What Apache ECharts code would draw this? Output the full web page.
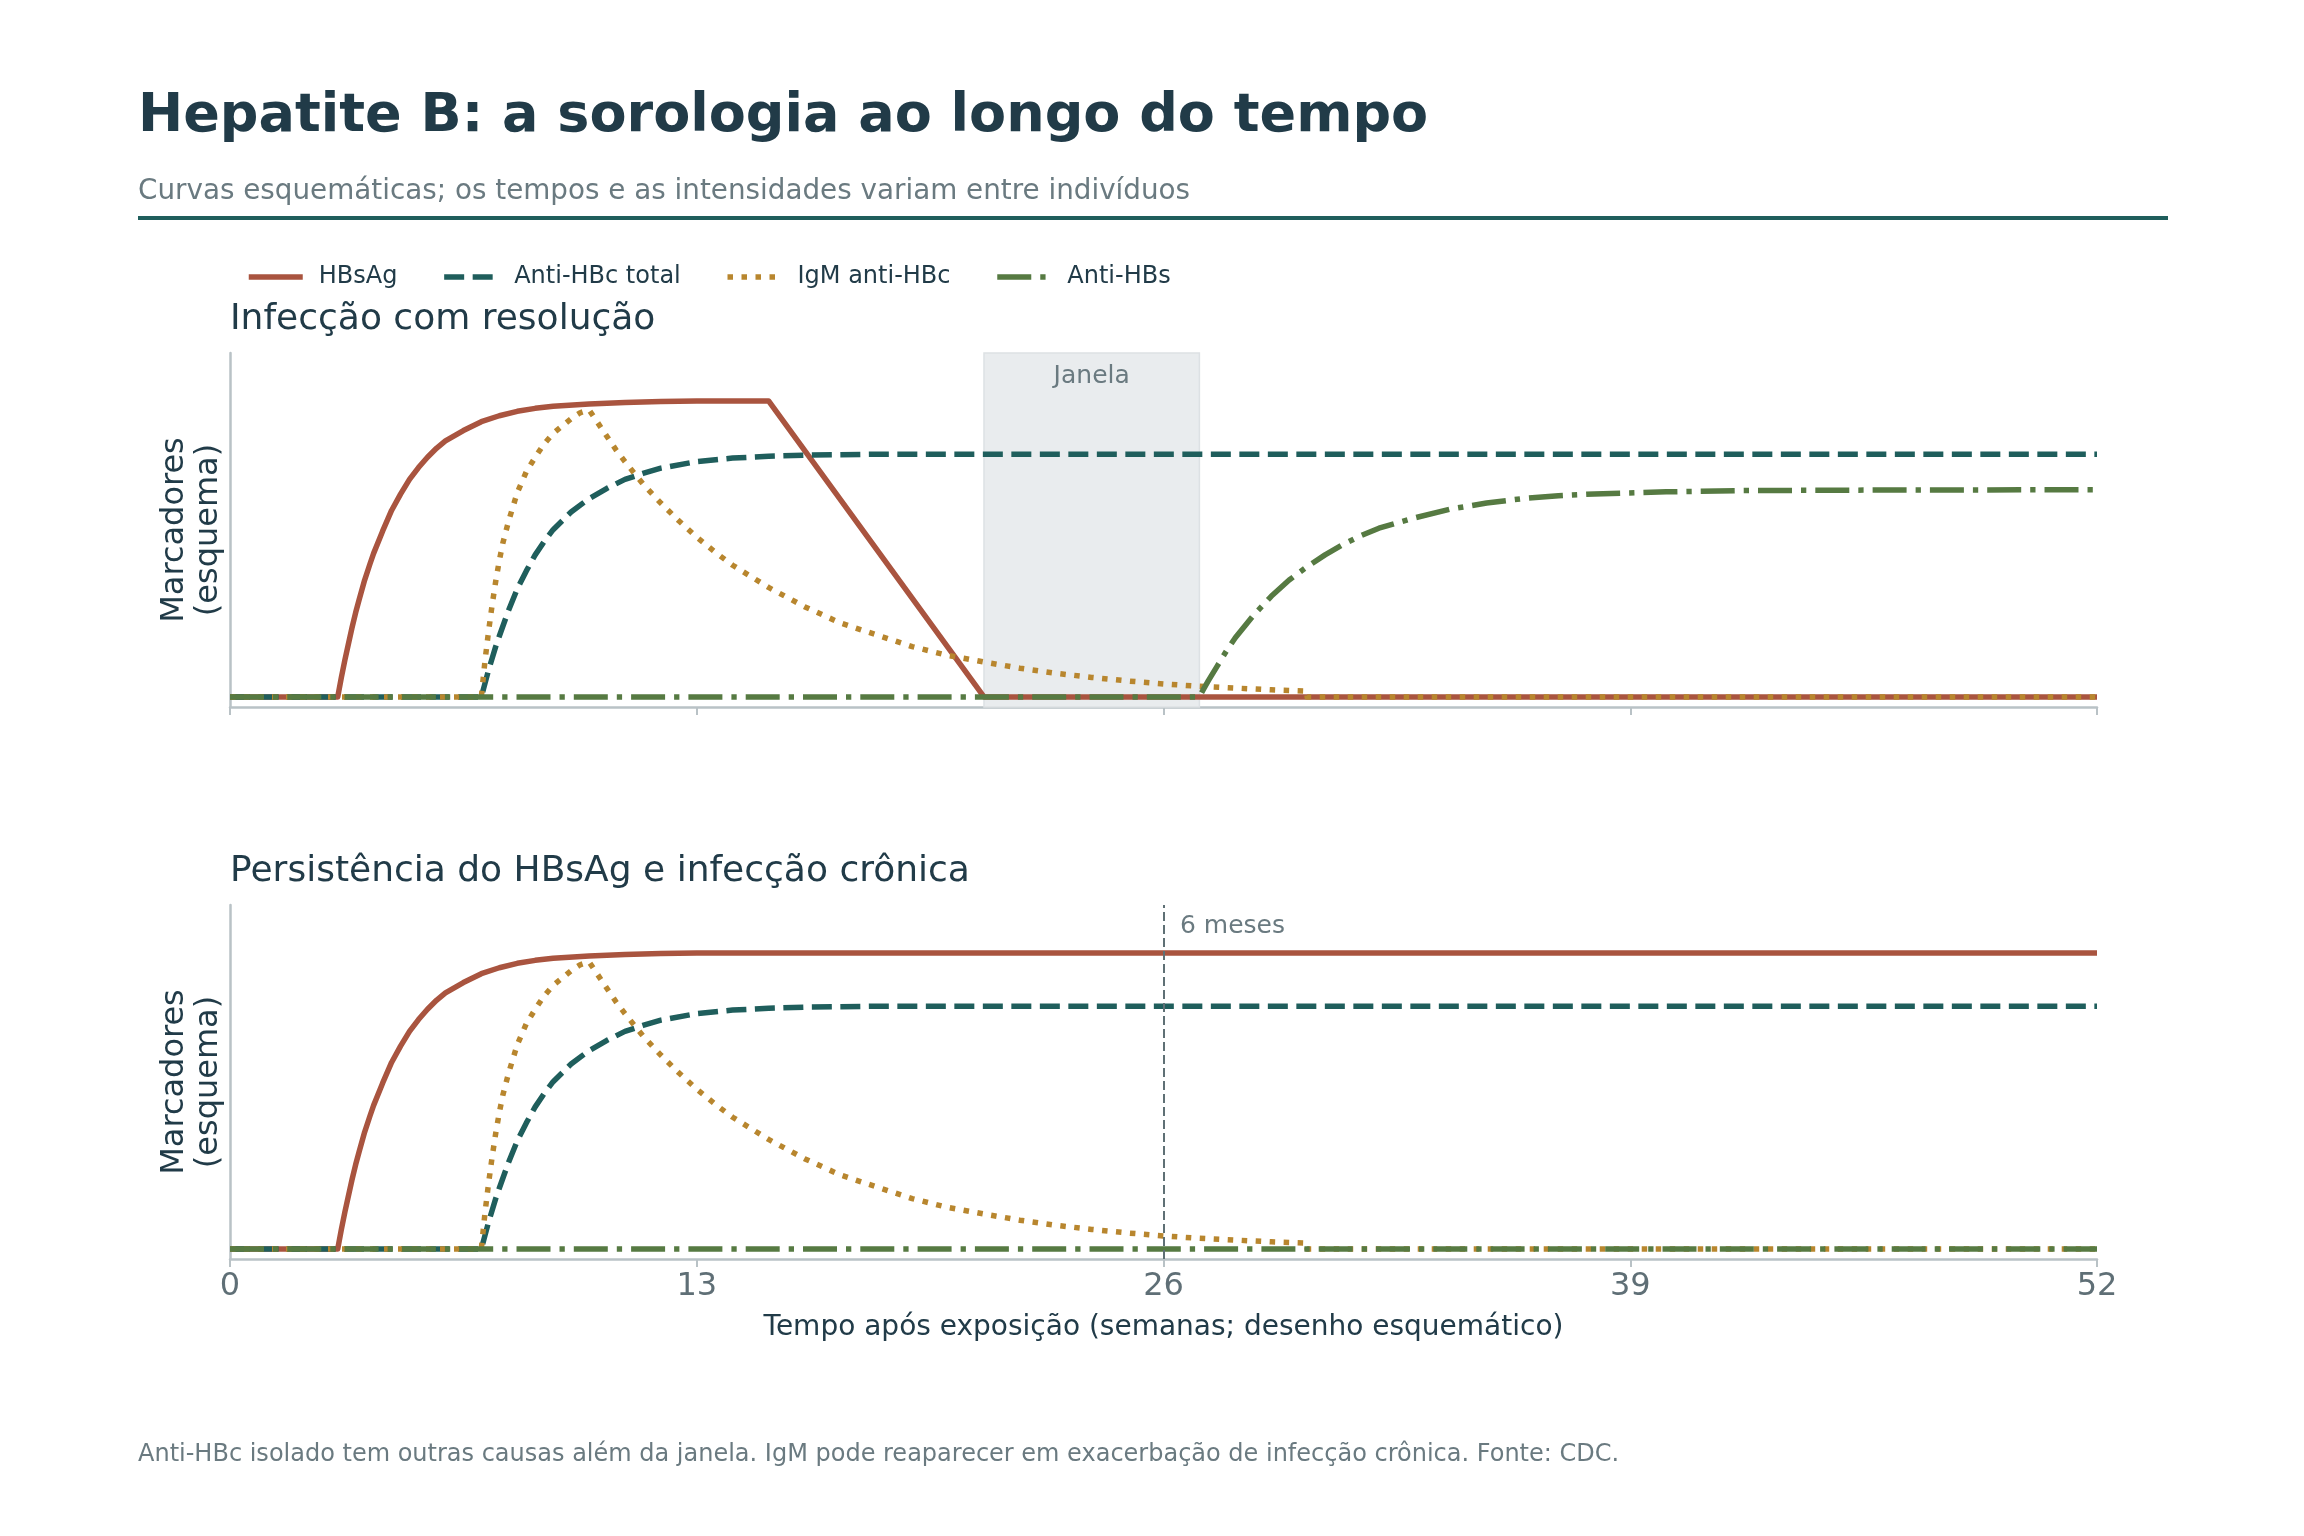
<!DOCTYPE html>
<html>
<head>
<meta charset="utf-8">
<title>Hepatite B: a sorologia ao longo do tempo</title>
<script src="https://cdn.jsdelivr.net/npm/echarts@6/dist/echarts.min.js"></script>
<style>
  html, body { margin: 0; padding: 0; background: #fff; }
  #chart { width: 2304px; height: 1536px; }
</style>
</head>
<body>
<div id="chart"></div>
<script>
// semanas após exposição -> intensidade esquemática
var hbsagRise = [[0, 0], [3, 0], [3.1, 0.065], [3.2, 0.125], [3.3, 0.18], [3.4, 0.235], [3.5, 0.285],
    [3.6, 0.33], [3.75, 0.395], [3.9, 0.45], [4, 0.485], [4.25, 0.56], [4.5, 0.63], [4.75, 0.685],
    [5, 0.735], [5.25, 0.775], [5.5, 0.81], [5.75, 0.84], [6, 0.865], [6.5, 0.9], [7, 0.93], [7.5, 0.95],
    [8, 0.965], [8.5, 0.975], [9, 0.982], [10, 0.99], [11, 0.995], [12, 0.998], [13, 1.0], [15, 1.0]];
var hbsagResolved = hbsagRise.concat([[21, 0], [52, 0]]);
var hbsagChronic = hbsagRise.concat([[52, 1.0]]);
var antiHbcTotal = [[0, 0], [7, 0], [7.1, 0.045], [7.2, 0.09], [7.3, 0.13], [7.4, 0.17], [7.5, 0.205],
    [7.75, 0.29], [8, 0.365], [8.25, 0.425], [8.5, 0.48], [8.75, 0.525], [9, 0.565], [9.5, 0.625],
    [10, 0.67], [10.5, 0.705], [11, 0.735], [11.5, 0.755], [12, 0.773], [13, 0.795], [14, 0.807],
    [15, 0.813], [16, 0.817], [18, 0.82], [52, 0.82]];
var igmAntiHbc = [[0, 0], [7, 0], [7.1, 0.12], [7.2, 0.22], [7.3, 0.31], [7.4, 0.39], [7.5, 0.46], [7.6, 0.52],
    [7.75, 0.59], [7.9, 0.65], [8, 0.69], [8.25, 0.76], [8.5, 0.81], [8.75, 0.855], [9, 0.89], [9.25, 0.915],
    [9.5, 0.94], [9.75, 0.96], [10, 0.97], [10.25, 0.925], [10.5, 0.88], [10.75, 0.835], [11, 0.795],
    [11.5, 0.72], [12, 0.655], [12.5, 0.595], [13, 0.54], [13.5, 0.49], [14, 0.445], [15, 0.37],
    [16, 0.305], [17, 0.25], [18, 0.21], [19, 0.17], [20, 0.14], [21, 0.118], [22, 0.097], [23, 0.08],
    [24, 0.066], [25, 0.054], [26, 0.044], [27, 0.036], [28, 0.03], [29, 0.024], [30, 0.02], [30, 0], [52, 0]];
var antiHbsResolved = [[0, 0], [27, 0], [27.1, 0.023], [27.25, 0.055], [27.5, 0.105], [27.75, 0.155],
    [28, 0.2], [28.5, 0.275], [29, 0.34], [29.5, 0.395], [30, 0.44], [30.5, 0.48], [31, 0.515],
    [31.5, 0.545], [32, 0.57], [33, 0.605], [34, 0.635], [35, 0.655], [36, 0.67], [37, 0.68],
    [38, 0.686], [40, 0.693], [42, 0.697], [46, 0.699], [52, 0.7]];
var antiHbsChronic = [[0, 0], [52, 0]];

var markerNames = ['HBsAg', 'Anti-HBc total', 'IgM anti-HBc', 'Anti-HBs'];
var weekTicks = [0, 13, 26, 39, 52];
var windowWeeks = [21, 27];
var sixMonthsWeek = 26;

var FONT = 'DejaVu Sans';
var DARK = '#213b48';
var GREY = '#6a7a80';
var SPINE = '#b9c2c6';
var colors = ['#a9543f', '#1f5e5c', '#b8862e', '#567a42'];
var dashes = ['solid', [20, 8.5], [5.5, 8.5], [34, 9, 5.3, 9]];
var LW = 5.5;

var myChart = echarts.init(document.getElementById('chart'));

function makeSeries(name, idx, data, panel) {
    return {
        name: name,
        type: 'line',
        xAxisIndex: panel,
        yAxisIndex: panel,
        data: data,
        symbol: 'none',
        showSymbol: false,
        smooth: false,
        animation: false,
        silent: true,
        itemStyle: { color: colors[idx] },
        lineStyle: { color: colors[idx], width: LW, type: dashes[idx], cap: 'butt', join: 'round' },
        emphasis: { disabled: true }
    };
}

function xAxisFor(panel, showLabels) {
    return {
        type: 'value',
        gridIndex: panel,
        min: weekTicks[0],
        max: weekTicks[weekTicks.length - 1],
        interval: weekTicks[1] - weekTicks[0],
        splitLine: { show: false },
        axisLine: { onZero: false, lineStyle: { color: SPINE, width: 2.5 } },
        axisTick: { show: true, length: 8, lineStyle: { color: SPINE, width: 2 } },
        axisLabel: { show: showLabels, fontSize: 32, fontFamily: FONT, color: '#5f6f76', margin: 12 },
        name: showLabels ? 'Tempo após exposição (semanas; desenho esquemático)' : '',
        nameLocation: 'middle',
        nameGap: 55,
        nameTextStyle: { fontSize: 28, fontFamily: FONT, color: DARK }
    };
}

function yAxisFor(panel) {
    return {
        type: 'value',
        gridIndex: panel,
        min: -0.034,
        max: 1.162,
        splitLine: { show: false },
        axisTick: { show: false },
        axisLabel: { show: false },
        axisLine: { show: true, lineStyle: { color: SPINE, width: 2.5 } },
        name: 'Marcadores\n(esquema)',
        nameLocation: 'middle',
        nameRotate: 90,
        nameGap: 4,
        nameTextStyle: { fontSize: 32, fontFamily: FONT, color: DARK, lineHeight: 34 }
    };
}

var resolved = [
    makeSeries(markerNames[0], 0, hbsagResolved, 0),
    makeSeries(markerNames[1], 1, antiHbcTotal, 0),
    makeSeries(markerNames[2], 2, igmAntiHbc, 0),
    makeSeries(markerNames[3], 3, antiHbsResolved, 0)
];
resolved[0].markArea = {
    silent: true,
    z: 1,
    itemStyle: { color: '#e9ecee', borderColor: '#dde1e4', borderWidth: 1.5 },
    label: { show: true, position: 'insideTop', distance: 12, fontSize: 25, fontFamily: FONT, color: GREY },
    data: [[{ name: 'Janela', xAxis: windowWeeks[0] }, { xAxis: windowWeeks[1] }]]
};

var chronic = [
    makeSeries(markerNames[0], 0, hbsagChronic, 1),
    makeSeries(markerNames[1], 1, antiHbcTotal, 1),
    makeSeries(markerNames[2], 2, igmAntiHbc, 1),
    makeSeries(markerNames[3], 3, antiHbsChronic, 1)
];
chronic[0].markLine = {
    silent: true,
    symbol: ['none', 'none'],
    label: { show: false },
    lineStyle: { color: '#5f7075', width: 2, type: [9, 4] },
    data: [{ xAxis: sixMonthsWeek }]
};
chronic[0].markPoint = {
    silent: true,
    symbol: 'circle',
    symbolSize: 1,
    itemStyle: { color: 'rgba(0,0,0,0)' },
    label: { show: true, position: 'right', distance: 16, formatter: '6 meses', fontSize: 25, fontFamily: FONT, color: GREY },
    data: [{ coord: [sixMonthsWeek, 1.09] }]
};

var option = {
    backgroundColor: '#ffffff',
    animation: false,
    textStyle: { fontFamily: FONT },
    legend: {
        data: markerNames,
        left: 241,
        top: 260,
        itemWidth: 54,
        itemHeight: 14,
        itemGap: 44,
        selectedMode: false,
        itemStyle: { color: 'rgba(0,0,0,0)', opacity: 0, borderWidth: 0 },
        lineStyle: { width: LW, type: 'inherit', opacity: 1 },
        textStyle: { fontSize: 24, fontFamily: FONT, color: DARK, padding: [0, 0, 0, 11] }
    },
    grid: [
        { left: 230, right: 207, top: 353, height: 354 },
        { left: 230, right: 207, top: 905, height: 354 }
    ],
    xAxis: [xAxisFor(0, false), xAxisFor(1, true)],
    yAxis: [yAxisFor(0), yAxisFor(1)],
    graphic: [
        { type: 'text', left: 138, top: 90, style: { text: 'Hepatite B: a sorologia ao longo do tempo', fontSize: 54, fontWeight: 'bold', fontFamily: FONT, fill: DARK } },
        { type: 'text', left: 138, top: 178, style: { text: 'Curvas esquemáticas; os tempos e as intensidades variam entre indivíduos', fontSize: 27.8, fontFamily: FONT, fill: GREY } },
        { type: 'line', shape: { x1: 138, y1: 218, x2: 2168, y2: 218 }, style: { stroke: '#1f5e5c', lineWidth: 4 } },
        { type: 'text', left: 230, top: 302, style: { text: 'Infecção com resolução', fontSize: 36, fontFamily: FONT, fill: DARK } },
        { type: 'text', left: 230, top: 854, style: { text: 'Persistência do HBsAg e infecção crônica', fontSize: 36, fontFamily: FONT, fill: DARK } },
        { type: 'text', left: 138, top: 1443, style: { text: 'Anti-HBc isolado tem outras causas além da janela. IgM pode reaparecer em exacerbação de infecção crônica. Fonte: CDC.', fontSize: 24, fontFamily: FONT, fill: GREY } }
    ],
    series: resolved.concat(chronic)
};

myChart.setOption(option);
</script>
</body>
</html>
